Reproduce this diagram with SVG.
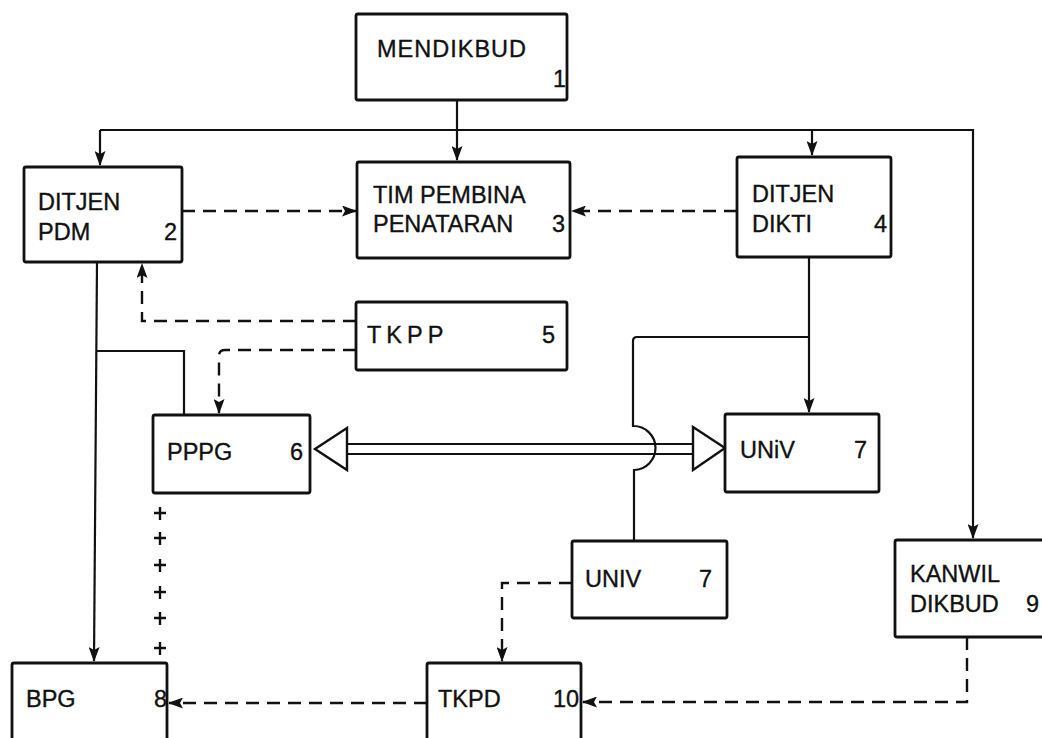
<svg xmlns="http://www.w3.org/2000/svg" width="1042" height="738" viewBox="0 0 1042 738">
<style>
.box{fill:#fff;stroke:#111;stroke-width:2.8}
.t{font-family:"Liberation Sans",Arial,sans-serif;font-size:23.5px;fill:#111;stroke:#111;stroke-width:0.35}
.sp{letter-spacing:5px}
.ln{fill:none;stroke:#111;stroke-width:2.2}
.ds{fill:none;stroke:#111;stroke-width:2.4;stroke-dasharray:13 8}
.pl{stroke:#111;stroke-width:2.4}
</style>
<defs>
<marker id="ah" markerUnits="userSpaceOnUse" markerWidth="15" markerHeight="11" refX="14" refY="5.5" orient="auto">
<path d="M0,0 L15,5.5 L0,11 L3,5.5 z" fill="#111"/>
</marker>
</defs>
<rect width="1042" height="738" fill="#fff"/>
<g id="connectors">
<!-- top distribution -->
<path class="ln" d="M457,100 V160" marker-end="url(#ah)"/>
<path class="ln" d="M100,130 H973 V538" marker-end="url(#ah)"/>
<path class="ln" d="M100,130 V165" marker-end="url(#ah)"/>
<path class="ln" d="M812,130 V155" marker-end="url(#ah)"/>
<!-- dashed to TIM -->
<path class="ds" d="M182,211 H356" marker-end="url(#ah)"/>
<path class="ds" d="M737,211 H572" marker-end="url(#ah)"/>
<!-- DIKTI to UNIV -->
<path class="ln" d="M809,257 V412" marker-end="url(#ah)"/>
<path class="ln" d="M809,337 H637 Q633,337 633,341 V426 A22,22 0 0 1 634,470 V541"/>
<!-- TKPP dashed -->
<path class="ds" d="M356,321 H142 V264" marker-end="url(#ah)"/>
<path class="ds" d="M356,350 H225 Q219,350 219,356 V413" marker-end="url(#ah)"/>
<!-- PDM down -->
<path class="ln" d="M97,262 L94,661" marker-end="url(#ah)"/>
<path class="ln" d="M97,351 H184 V415"/>
<!-- double line -->
<path class="ln" d="M347,444 H693 M347,454 H693"/>
<path d="M347,428 L315,449 L347,470 z" fill="#fff" stroke="#111" stroke-width="2.4"/>
<path d="M693,427 L725,448 L693,470 z" fill="#fff" stroke="#111" stroke-width="2.4"/>
<!-- plus line -->
<g class="pl">
<path d="M160,507 V520 M154,513 H166"/>
<path d="M160,532 V545 M154,538 H166"/>
<path d="M160,559 V572 M154,565 H166"/>
<path d="M160,586 V599 M154,592 H166"/>
<path d="M160,612 V625 M154,618 H166"/>
<path d="M160,642 V655 M154,648 H166"/>
</g>
<!-- bottom dashed -->
<path class="ds" d="M572,583 H502 V661" marker-end="url(#ah)"/>
<path class="ds" d="M427,703 H169" marker-end="url(#ah)"/>
<path class="ds" d="M967,637 V702 H583" marker-end="url(#ah)"/>
</g>
<g id="n1"><rect class="box" x="356" y="14" width="211" height="86" rx="2"/><text class="t" x="377" y="57" letter-spacing="1">MENDIKBUD</text><text class="t" x="553" y="87">1</text></g>
<g id="n2"><rect class="box" x="24" y="167" width="158" height="95" rx="2"/><text class="t" x="38" y="210">DITJEN</text><text class="t" x="38" y="240">PDM</text><text class="t" x="164" y="240">2</text></g>
<g id="n3"><rect class="box" x="357" y="162" width="213" height="96" rx="2"/><text class="t" x="373" y="203">TIM PEMBINA</text><text class="t" x="373" y="232">PENATARAN</text><text class="t" x="552" y="232">3</text></g>
<g id="n4"><rect class="box" x="737" y="157" width="154" height="100" rx="2"/><text class="t" x="752" y="202">DITJEN</text><text class="t" x="752" y="232">DIKTI</text><text class="t" x="874" y="232">4</text></g>
<g id="n5"><rect class="box" x="356" y="302" width="211" height="68" rx="2"/><text class="t sp" x="367" y="343">TKPP</text><text class="t" x="542" y="343">5</text></g>
<g id="n6"><rect class="box" x="153" y="415" width="157" height="78" rx="2"/><text class="t" x="167" y="460">PPPG</text><text class="t" x="290" y="460">6</text></g>
<g id="n7a"><rect class="box" x="725" y="414" width="154" height="78" rx="2"/><text class="t" x="740" y="458">UNiV</text><text class="t" x="854" y="458">7</text></g>
<g id="n7b"><rect class="box" x="572" y="541" width="155" height="77" rx="2"/><text class="t" x="585" y="587">UNIV</text><text class="t" x="699" y="587">7</text></g>
<g id="n9"><rect class="box" x="895" y="540" width="160" height="97" rx="2"/><text class="t" x="910" y="582">KANWIL</text><text class="t" x="910" y="612">DIKBUD</text><text class="t" x="1026" y="612">9</text></g>
<g id="n8"><rect class="box" x="12" y="663" width="155" height="90" rx="2"/><text class="t" x="26" y="707">BPG</text><text class="t" x="154" y="707">8</text></g>
<g id="n10"><rect class="box" x="427" y="663" width="154" height="90" rx="2"/><text class="t" x="438" y="707">TKPD</text><text class="t" x="553" y="707">10</text></g>
</svg>
